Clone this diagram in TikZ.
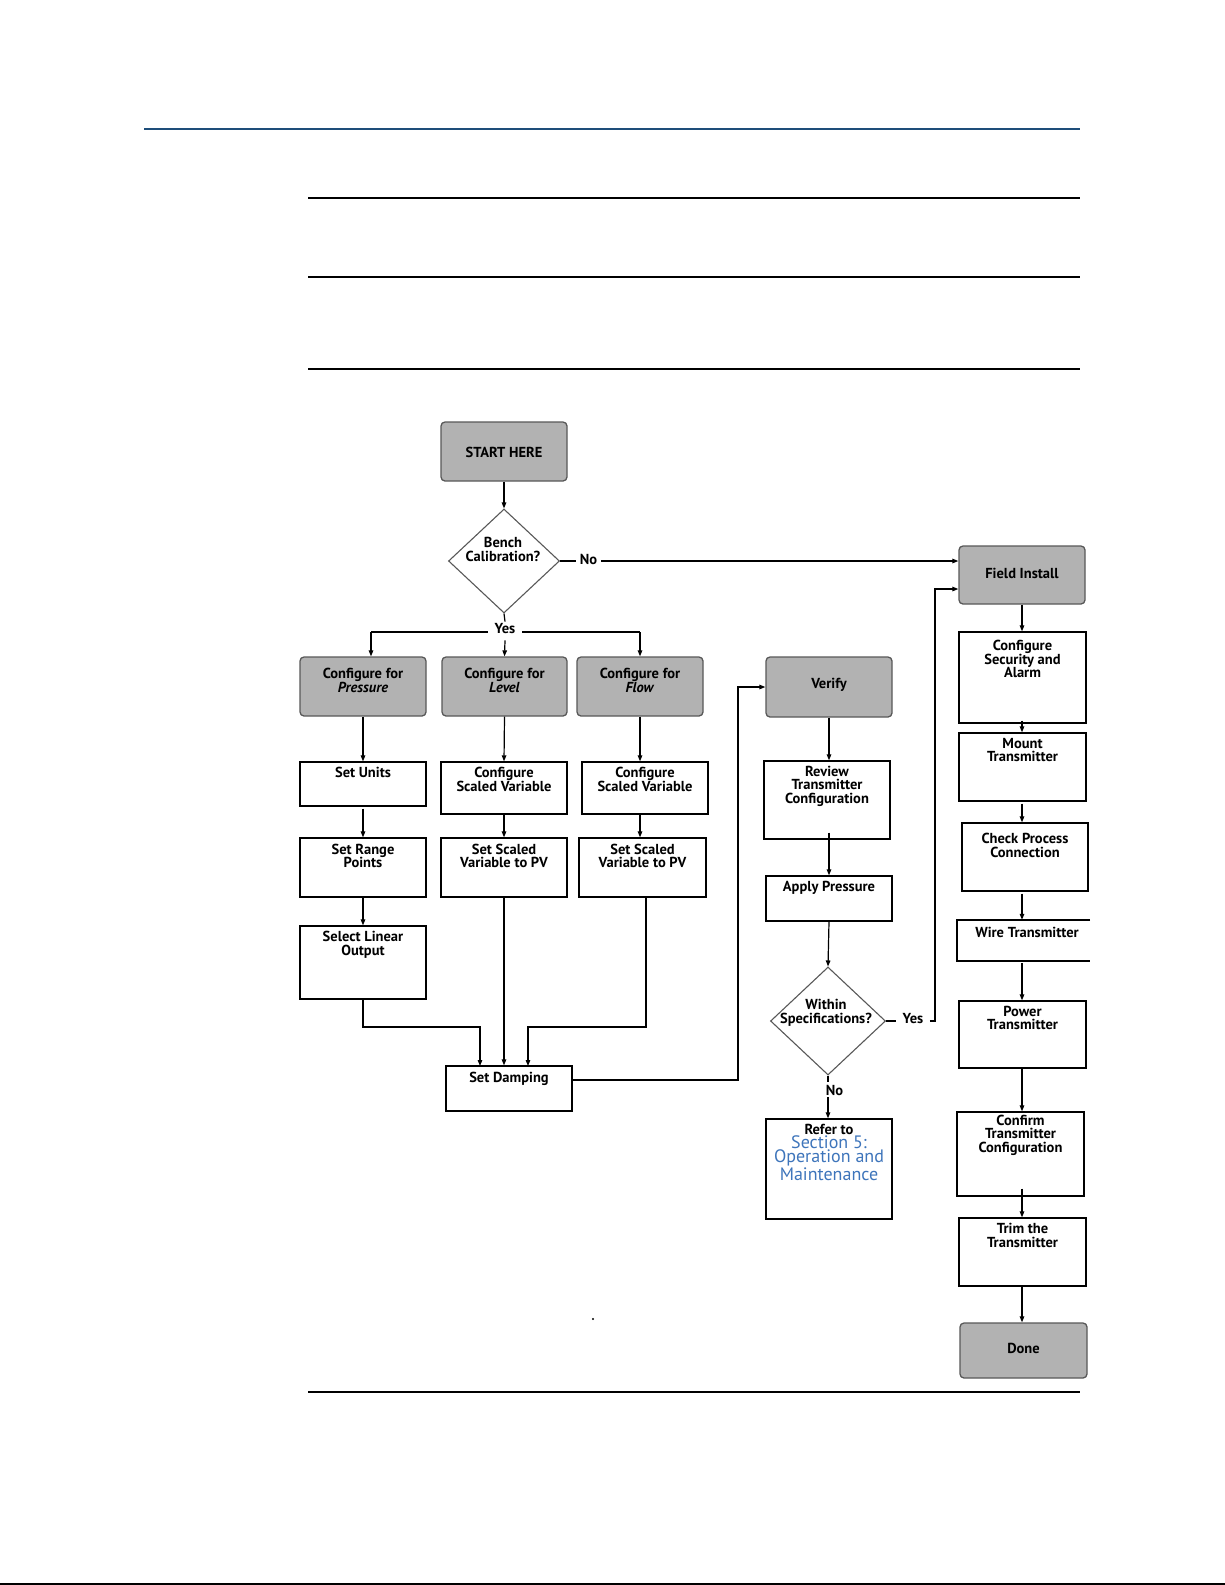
\documentclass[tikz,border=0pt]{standalone}
\usepackage{fontspec}
\setmainfont{PT Sans}
\usetikzlibrary{arrows.meta,shapes.geometric,calc}
\definecolor{boxgray}{RGB}{178,178,178}
\definecolor{edgegray}{RGB}{88,88,88}
\definecolor{topblue}{RGB}{30,78,122}
\definecolor{linkblue}{RGB}{62,117,187}
\newcommand\mkbox[8]{%
  \node[#1, minimum width={#4-#3}, minimum height={#6-#5}] (#2) at ({(#3+#4)/2},{(#5+#6)/2}) {};
  \node[txt] (#2-t) at ({(#3+#4)/2},#7) {#8};}
\begin{document}
\begin{tikzpicture}[x=1pt,y=-1pt,
  gbox/.style={draw=edgegray, fill=boxgray, line width=1.3pt, rounded corners=4pt, inner sep=0pt},
  wbox/.style={draw=black, line width=1.3pt, inner sep=0pt, fill=white},
  dia/.style={draw=edgegray, line width=1.1pt, diamond, inner sep=0pt},
  txt/.style={font=\fontsize{14.5}{13.5}\selectfont\bfseries, align=center, inner sep=0pt, text=black},
  lab/.style={txt, inner ysep=2pt},
  arr/.style={-{Triangle[length=6pt,width=4.5pt]}, line width=1.2pt},
  ln/.style={line width=1.2pt}
]
\useasboundingbox (0,0) rectangle (1225,1585);
% page rules
\draw[topblue, line width=1.5pt] (144,129) -- (1080,129);
\draw[line width=2pt] (308,198) -- (1080,198);
\draw[line width=2pt] (308,277) -- (1080,277);
\draw[line width=2pt] (308,369) -- (1080,369);
\draw[line width=2pt] (308,1392) -- (1080,1392);
\draw[line width=2pt] (0,1584) -- (1225,1584);
\fill (593,1319) circle (1.2pt);

% left part
\mkbox{gbox}{start}{441}{567}{422}{481}{452}{START HERE}
\node[dia, minimum width=111pt, minimum height=104pt] (bench) at (504,561) {};
\node[txt] (bench-t) at (503,549.5) {Bench\\Calibration?};
\mkbox{gbox}{press}{300}{426}{657}{716}{680.5}{Configure for\\\textit{Pressure}}
\mkbox{gbox}{level}{442}{567}{657}{716}{680.5}{Configure for\\\textit{Level}}
\mkbox{gbox}{flow}{577}{703}{657}{716}{680.5}{Configure for\\\textit{Flow}}
\mkbox{wbox}{units}{300}{426}{762}{806}{772}{Set Units}
\mkbox{wbox}{csvL}{441}{567}{762}{814}{779.5}{Configure\\Scaled Variable}
\mkbox{wbox}{csvF}{582}{708}{762}{814}{779.5}{Configure\\Scaled Variable}
\mkbox{wbox}{range}{300}{426}{838}{897}{856}{Set Range\\Points}
\mkbox{wbox}{pvL}{441}{567}{838}{897}{856}{Set Scaled\\Variable to PV}
\mkbox{wbox}{pvF}{579}{706}{838}{897}{856}{Set Scaled\\Variable to PV}
\mkbox{wbox}{linear}{300}{426}{926}{999}{945}{Select Linear\\Output}
\mkbox{wbox}{damp}{446}{572}{1066}{1111}{1079}{Set Damping}

% middle part
\mkbox{gbox}{verify}{766}{892}{657}{717}{685}{Verify}
\mkbox{wbox}{review}{764}{890}{761}{839}{786}{Review\\Transmitter\\Configuration}
\mkbox{wbox}{apply}{766}{892}{876}{921}{888}{Apply Pressure}
\node[dia, minimum width=115pt, minimum height=108pt] (within) at (828,1021) {};
\node[txt] (within-t) at (826,1013) {Within\\Specifications?};
\mkbox{wbox}{refer}{766}{892}{1119}{1219}{1129}{Refer to}
\node[txt, font=\fontsize{18}{14.5}\selectfont, text=linkblue] (refer-b) at (829,1158) {Section 5:\\Operation and\\Maintenance};

% right part
\mkbox{gbox}{field}{959}{1085}{546}{604}{573}{Field Install}
\mkbox{wbox}{sec}{959}{1086}{632}{723}{659}{Configure\\Security and\\Alarm}
\mkbox{wbox}{mount}{959}{1086}{733}{801}{750}{Mount\\Transmitter}
\mkbox{wbox}{check}{962}{1088}{823}{891}{845.5}{Check Process\\Connection}
\node[inner sep=0pt, minimum width=133pt, minimum height=41pt] (wire) at (1023.5,940.5) {};
\draw[line width=1.3pt] (1090,920) -- (957,920) -- (957,961) -- (1090,961);
\node[txt] (wire-t) at (1027,932) {Wire Transmitter};
\mkbox{wbox}{power}{959}{1086}{1001}{1068}{1018}{Power\\Transmitter}
\mkbox{wbox}{confirm}{957}{1084}{1112}{1196}{1135}{Confirm\\Transmitter\\Configuration}
\mkbox{wbox}{trim}{959}{1086}{1218}{1286}{1235.5}{Trim the\\Transmitter}
\mkbox{gbox}{done}{960}{1087}{1323}{1378}{1348}{Done}

% labels
\node[lab, inner xsep=4pt] (nolab) at (588.5,559) {No};
\node[lab, inner xsep=7pt] (yeslab) at (505,629) {Yes};
\node[lab, inner xsep=6.5pt] (yes2) at (913,1019) {Yes};
\node[lab] (no2) at (834.5,1090) {No};

% coordinates
\coordinate (ysplitL) at (371,632);
\coordinate (ysplitR) at (640,632);
\coordinate (joinL) at (363,1027);
\coordinate (joinR) at (646,1027);
\coordinate (dampA) at (480,1066);
\coordinate (dampB) at (528,1066);
\coordinate (dv) at (738,1080);
\coordinate (yturn) at (935,1021);

% connectors left
\draw[arr] (start.south) -- (bench.north);
\draw[ln] (bench.east) -- (nolab.west |- bench.east);
\draw[arr] (nolab.east |- bench.east) -- (field.west |- bench.east);
\draw[ln] (bench.south) -- (yeslab.north);
\draw[ln] (yeslab.west |- ysplitL) -- (ysplitL);
\draw[arr] (ysplitL) -- (ysplitL |- press.north);
\draw[ln] (yeslab.east |- ysplitR) -- (ysplitR);
\draw[arr] (ysplitR) -- (ysplitR |- flow.north);
\draw[arr] ([yshift=-4pt]yeslab.south) -- (level.north);
\draw[arr] (press.south) -- (units.north);
\draw[arr] ([yshift=-2pt]units.south) -- (range.north);
\draw[arr] (range.south) -- (linear.north);
\draw[arr] (level.south) -- (csvL.north);
\draw[arr] (csvL.south) -- (pvL.north);
\draw[arr] (flow.south) -- (flow.south |- csvF.north);
\draw[arr] (flow.south |- csvF.south) -- (flow.south |- pvF.north);
\draw[arr] (linear.south) -- (joinL) -| (dampA);
\draw[arr] (pvL.south) -- (pvL.south |- damp.north);
\draw[arr] (joinR |- pvF.south) -- (joinR) -| (dampB);
\draw[arr] (damp.east |- dv) -- (dv) |- (verify.west);

% connectors middle
\draw[arr] (verify.south) -- (review.north -| verify.south);
\draw[arr] ([yshift=7pt]review.south -| verify.south) -- (apply.north -| verify.south);
\draw[arr] (apply.south -| verify.south) -- (within.north);
\draw[ln] (within.east) -- (yes2.west |- within.east);
\draw[arr] (yes2.east |- yturn) -- (yturn) |- ([yshift=-14pt]field.west);
\draw[ln] (within.south) -- ([yshift=1pt]no2.north -| within.south);
\draw[arr] (no2.south -| within.south) -- (refer.north -| within.south);

% connectors right
\draw[arr] (field.south) -- (field.south |- sec.north);
\draw[arr] ([yshift=3pt]field.south |- sec.south) -- (field.south |- mount.north);
\draw[arr] ([yshift=-2pt]field.south |- mount.south) -- (field.south |- check.north);
\draw[arr] ([yshift=-2pt]field.south |- check.south) -- (field.south |- wire.north);
\draw[arr] ([yshift=-2pt]field.south |- wire.south) -- (field.south |- power.north);
\draw[arr] (field.south |- power.south) -- (field.south |- confirm.north);
\draw[arr] ([yshift=8pt]field.south |- confirm.south) -- (field.south |- trim.north);
\draw[arr] (field.south |- trim.south) -- (field.south |- done.north);
\end{tikzpicture}
\end{document}
